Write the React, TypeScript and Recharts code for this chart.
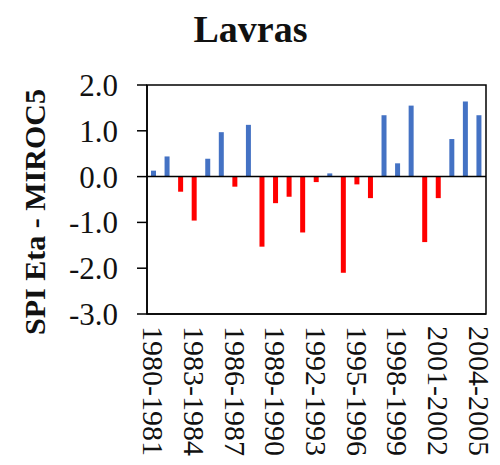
import React from "react";
import { BarChart, Bar, Cell, XAxis, YAxis, ReferenceLine, ReferenceArea } from "recharts";

const seasons = [
  "1980-1981", "1981-1982", "1982-1983", "1983-1984", "1984-1985",
  "1985-1986", "1986-1987", "1987-1988", "1988-1989", "1989-1990",
  "1990-1991", "1991-1992", "1992-1993", "1993-1994", "1994-1995",
  "1995-1996", "1996-1997", "1997-1998", "1998-1999", "1999-2000",
  "2000-2001", "2001-2002", "2002-2003", "2003-2004", "2004-2005",
];

const spiValues = [
  0.13, 0.44, -0.33, -0.96, 0.39, 0.97, -0.22, 1.13, -1.53, -0.58,
  -0.44, -1.22, -0.12, 0.07, -2.10, -0.17, -0.47, 1.34, 0.29, 1.55,
  -1.43, -0.47, 0.82, 1.64, 1.34,
];

const xTicks = [
  "1980-1981", "1983-1984", "1986-1987", "1989-1990", "1992-1993",
  "1995-1996", "1998-1999", "2001-2002", "2004-2005",
];

const yTicks = [-3, -2, -1, 0, 1, 2];

const data = seasons.map((season, i) => ({ season, spi: spiValues[i] }));

const FONT = "'Liberation Serif', 'Times New Roman', serif";
const POSITIVE = "#4472C4";
const NEGATIVE = "#FF0000";

// season labels run downward, rotated clockwise
const SeasonTick = (props: any) => {
  const { x, y, payload } = props;
  return (
    <text
      x={x}
      y={y}
      dy="0.35em"
      transform={`rotate(90, ${x}, ${y})`}
      textAnchor="start"
      fontFamily={FONT}
      fontSize={30}
      fill="#111"
    >
      {payload.value}
    </text>
  );
};

const YTitle = () => (
  <text
    x={34}
    y={212}
    transform="rotate(-90, 34, 212)"
    textAnchor="middle"
    dominantBaseline="central"
    fontFamily={FONT}
    fontWeight="bold"
    fontSize={30}
    fill="#111"
  >
    SPI Eta - MIROC5
  </text>
);

export default function App() {
  return (
    <div style={{ position: "absolute", left: 0, top: 0, width: 500, height: 465, background: "#fff" }}>
      <div
        style={{
          position: "absolute",
          left: 0,
          top: 10,
          width: 501,
          textAlign: "center",
          fontFamily: FONT,
          fontWeight: "bold",
          fontSize: 38,
          lineHeight: "38px",
          color: "#111",
        }}
      >
        Lavras
      </div>
      <BarChart
        width={500}
        height={465}
        data={data}
        margin={{ top: 85, right: 14, bottom: 0, left: 0 }}
      >
        <XAxis
          dataKey="season"
          ticks={xTicks}
          interval={0}
          height={151}
          tickSize={0}
          tickMargin={12}
          tick={<SeasonTick />}
          axisLine={{ stroke: "#000", strokeWidth: 1.5 }}
        />
        <YAxis
          domain={[-3, 2]}
          ticks={yTicks}
          width={147}
          tickSize={10}
          tickMargin={19}
          tickFormatter={(v: number) => v.toFixed(1)}
          tick={{ fontFamily: FONT, fontSize: 31, fill: "#111" }}
          tickLine={{ stroke: "#000", strokeWidth: 1.5 }}
          axisLine={{ stroke: "#000", strokeWidth: 1.5 }}
          label={<YTitle />}
        />
        {/* frame around the plot area */}
        <ReferenceArea y1={-3} y2={2} fill="none" stroke="#000" strokeWidth={1.5} fillOpacity={0} />
        <ReferenceLine y={0} stroke="#000" strokeWidth={1.5} />
        <Bar dataKey="spi" barSize={5} isAnimationActive={false}>
          {data.map((d) => (
            <Cell key={d.season} fill={d.spi >= 0 ? POSITIVE : NEGATIVE} />
          ))}
        </Bar>
      </BarChart>
    </div>
  );
}
